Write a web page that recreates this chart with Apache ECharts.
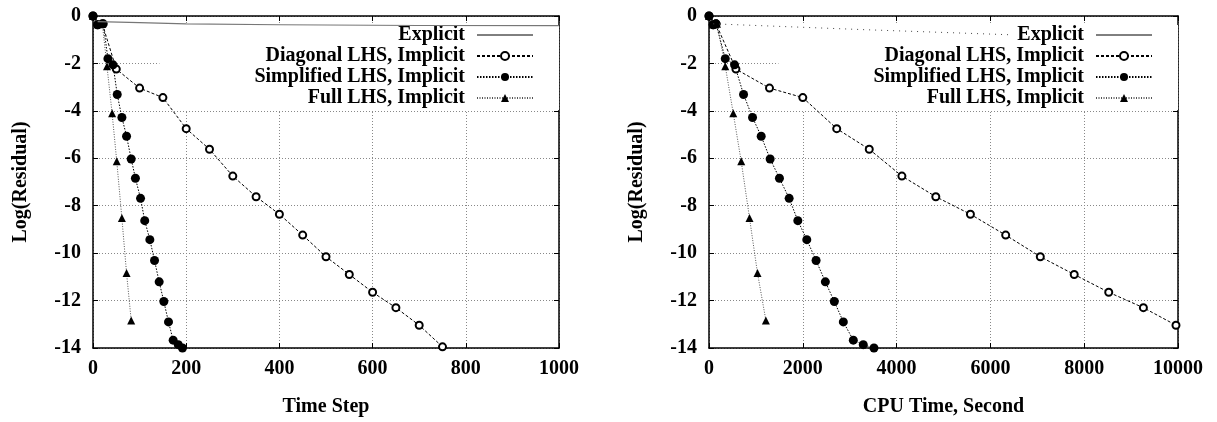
<!DOCTYPE html>
<html>
<head>
<meta charset="utf-8">
<script src="https://cdn.jsdelivr.net/npm/echarts@6/dist/echarts.min.js"></script>
<style>
  html, body { margin: 0; padding: 0; background: #fff; }
  #chart { width: 1217px; height: 422px; }
</style>
</head>
<body>
<div id="chart"></div>
<script>
// data (residual is shared, x is step or cpu seconds)
var stepDiag = [0, 10, 20, 50, 100, 150, 200, 250, 300, 350, 400, 450, 500, 550, 600, 650, 700, 750];
var cpuDiag  = [0, 90, 150, 574, 1290, 2000, 2723, 3417, 4113, 4836, 5574, 6326, 7064, 7787, 8523, 9262, 9957];
var resDiag  = [0, -0.37, -0.33, -2.24, -3.04, -3.44, -4.75, -5.62, -6.75, -7.62, -8.36, -9.24, -10.15, -10.9, -11.65, -12.3, -13.04, -13.95];

var stepSimp = [0, 10, 22, 32, 43, 52, 62, 72, 82, 91, 102, 111, 122, 132, 142, 152, 162, 172, 183, 192];
var cpuSimp  = [0, 90, 150, 347, 545, 737, 928, 1113, 1304, 1502, 1709, 1894, 2085, 2283, 2481, 2672, 2864, 3077, 3289, 3517];
var resSimp  = [0, -0.37, -0.33, -1.8, -2.06, -3.31, -4.28, -5.07, -6.03, -6.84, -7.69, -8.63, -9.43, -10.31, -11.21, -12.04, -12.9, -13.67, -13.86, -14.0];

var stepFull = [0, 10, 20, 30, 41, 51, 62, 72, 82];
var cpuFull  = [0, 85, 170, 347, 517, 687, 864, 1034, 1213];
var resFull  = [0, -0.35, -0.33, -2.12, -4.1, -6.13, -8.52, -10.84, -12.84];

var stepExpl = [10, 100, 200, 400, 700, 1000];
var resExplStep = [-0.24, -0.28, -0.33, -0.37, -0.4, -0.41];
var cpuExpl  = [90, 3360, 6400];
var resExplCpu = [-0.33, -0.58, -0.79];

var names = ['Explicit', 'Diagonal LHS, Implicit', 'Simplified LHS, Implicit', 'Full LHS, Implicit'];

function pairs(xs, ys) {
    var out = [];
    for (var i = 0; i < xs.length && i < ys.length; i++) out.push([xs[i], ys[i]]);
    return out;
}

var font = 'Liberation Serif';
var txt = { fontFamily: font, fontWeight: 'bold', fontSize: 20, color: '#000' };
var plain = function (v) { return String(v); };

function mainX(gi, max, interval, name) {
    return {
        gridIndex: gi, type: 'value', min: 0, max: max, interval: interval,
        name: name, nameLocation: 'middle', nameGap: 49, nameTextStyle: txt,
        axisLine: { show: true, onZero: false, lineStyle: { color: '#000', width: 1.5 } },
        axisTick: { inside: true, length: 5, lineStyle: { color: '#000' } },
        axisLabel: Object.assign({ margin: 11, formatter: plain }, txt),
        splitLine: { show: true, lineStyle: { color: '#888', type: [1, 2], width: 1 } }
    };
}
function mirrorX(gi, max, interval) {
    return {
        gridIndex: gi, type: 'value', position: 'top', min: 0, max: max, interval: interval,
        axisLine: { show: true, onZero: false, lineStyle: { color: '#000', width: 1.5 } },
        axisTick: { inside: true, length: 5, lineStyle: { color: '#000' } },
        axisLabel: { show: false }, splitLine: { show: false }
    };
}
function mainY(gi) {
    return {
        gridIndex: gi, type: 'value', min: -14, max: 0, interval: 2,
        name: 'Log(Residual)', nameLocation: 'middle', nameGap: 62, nameTextStyle: txt,
        axisLine: { show: true, onZero: false, lineStyle: { color: '#000', width: 1.5 } },
        axisTick: { inside: true, length: 5, lineStyle: { color: '#000' } },
        axisLabel: Object.assign({ margin: 12, formatter: plain }, txt),
        splitLine: { show: true, lineStyle: { color: '#888', type: [1, 2], width: 1 } }
    };
}
function mirrorY(gi) {
    return {
        gridIndex: gi, type: 'value', position: 'right', min: -14, max: 0, interval: 2,
        axisLine: { show: true, onZero: false, lineStyle: { color: '#000', width: 1.5 } },
        axisTick: { inside: true, length: 5, lineStyle: { color: '#000' } },
        axisLabel: { show: false }, splitLine: { show: false }
    };
}

// series sit above the white legend box, grid lines stay below it
function seriesSet(xi, yi, expl, diag, simp, full) {
    return [
        {
            name: names[0], type: 'line', xAxisIndex: xi, yAxisIndex: yi, data: expl,
            symbol: 'none', z: 6, clip: false,
            itemStyle: { color: '#000' },
            lineStyle: xi === 0 ? { color: '#777', width: 1.2, type: 'solid' }
                                : { color: '#444', width: 1, type: [1, 5] }
        },
        {
            name: names[1], type: 'line', xAxisIndex: xi, yAxisIndex: yi, data: diag,
            symbol: 'emptyCircle', symbolSize: 7, clip: false, z: 5,
            itemStyle: { color: '#000', borderColor: '#000', borderWidth: 1 },
            lineStyle: { color: '#000', width: 1, type: [3, 2] }
        },
        {
            name: names[2], type: 'line', xAxisIndex: xi, yAxisIndex: yi, data: simp,
            symbol: 'circle', symbolSize: 9, clip: false, z: 5,
            itemStyle: { color: '#000' },
            lineStyle: { color: '#000', width: 1, type: [1.5, 1.5] }
        },
        {
            name: names[3], type: 'line', xAxisIndex: xi, yAxisIndex: yi, data: full,
            symbol: 'triangle', symbolSize: 8, clip: false, z: 5,
            itemStyle: { color: '#000' },
            lineStyle: { color: '#555', width: 1, type: [1, 1.5] }
        }
    ];
}

function legendAt(right) {
    return {
        orient: 'vertical', right: right, top: 25, align: 'right', z: 4,
        backgroundColor: '#fff', padding: [0, 25, 2, 95],
        itemWidth: 56, itemHeight: 10, itemGap: 1,
        textStyle: Object.assign({ lineHeight: 20, padding: [0, 7, 0, 0] }, txt),
        data: [
            {
                name: names[0],
                lineStyle: { color: '#000', type: 'solid', width: 1 },
                itemStyle: { color: 'rgba(0,0,0,0)', borderWidth: 0 }
            },
            names[1], names[2], names[3]
        ]
    };
}

var myChart = echarts.init(document.getElementById('chart'), null, { renderer: 'canvas' });

var option = {
    animation: false,
    backgroundColor: '#fff',
    grid: [
        { left: 93, right: 658, top: 16, bottom: 68 },
        { left: 709, right: 39, top: 16, bottom: 68 }
    ],
    legend: [legendAt(658), legendAt(39)],
    xAxis: [
        mainX(0, 1000, 200, 'Time Step'), mirrorX(0, 1000, 200),
        mainX(1, 10000, 2000, 'CPU Time, Second'), mirrorX(1, 10000, 2000)
    ],
    yAxis: [mainY(0), mirrorY(0), mainY(1), mirrorY(1)],
    series: [].concat(
        seriesSet(0, 0, pairs(stepExpl, resExplStep), pairs(stepDiag, resDiag),
                  pairs(stepSimp, resSimp), pairs(stepFull, resFull)),
        seriesSet(2, 2, pairs(cpuExpl, resExplCpu), pairs(cpuDiag, resDiag),
                  pairs(cpuSimp, resSimp), pairs(cpuFull, resFull))
    )
};

myChart.setOption(option);
</script>
</body>
</html>
